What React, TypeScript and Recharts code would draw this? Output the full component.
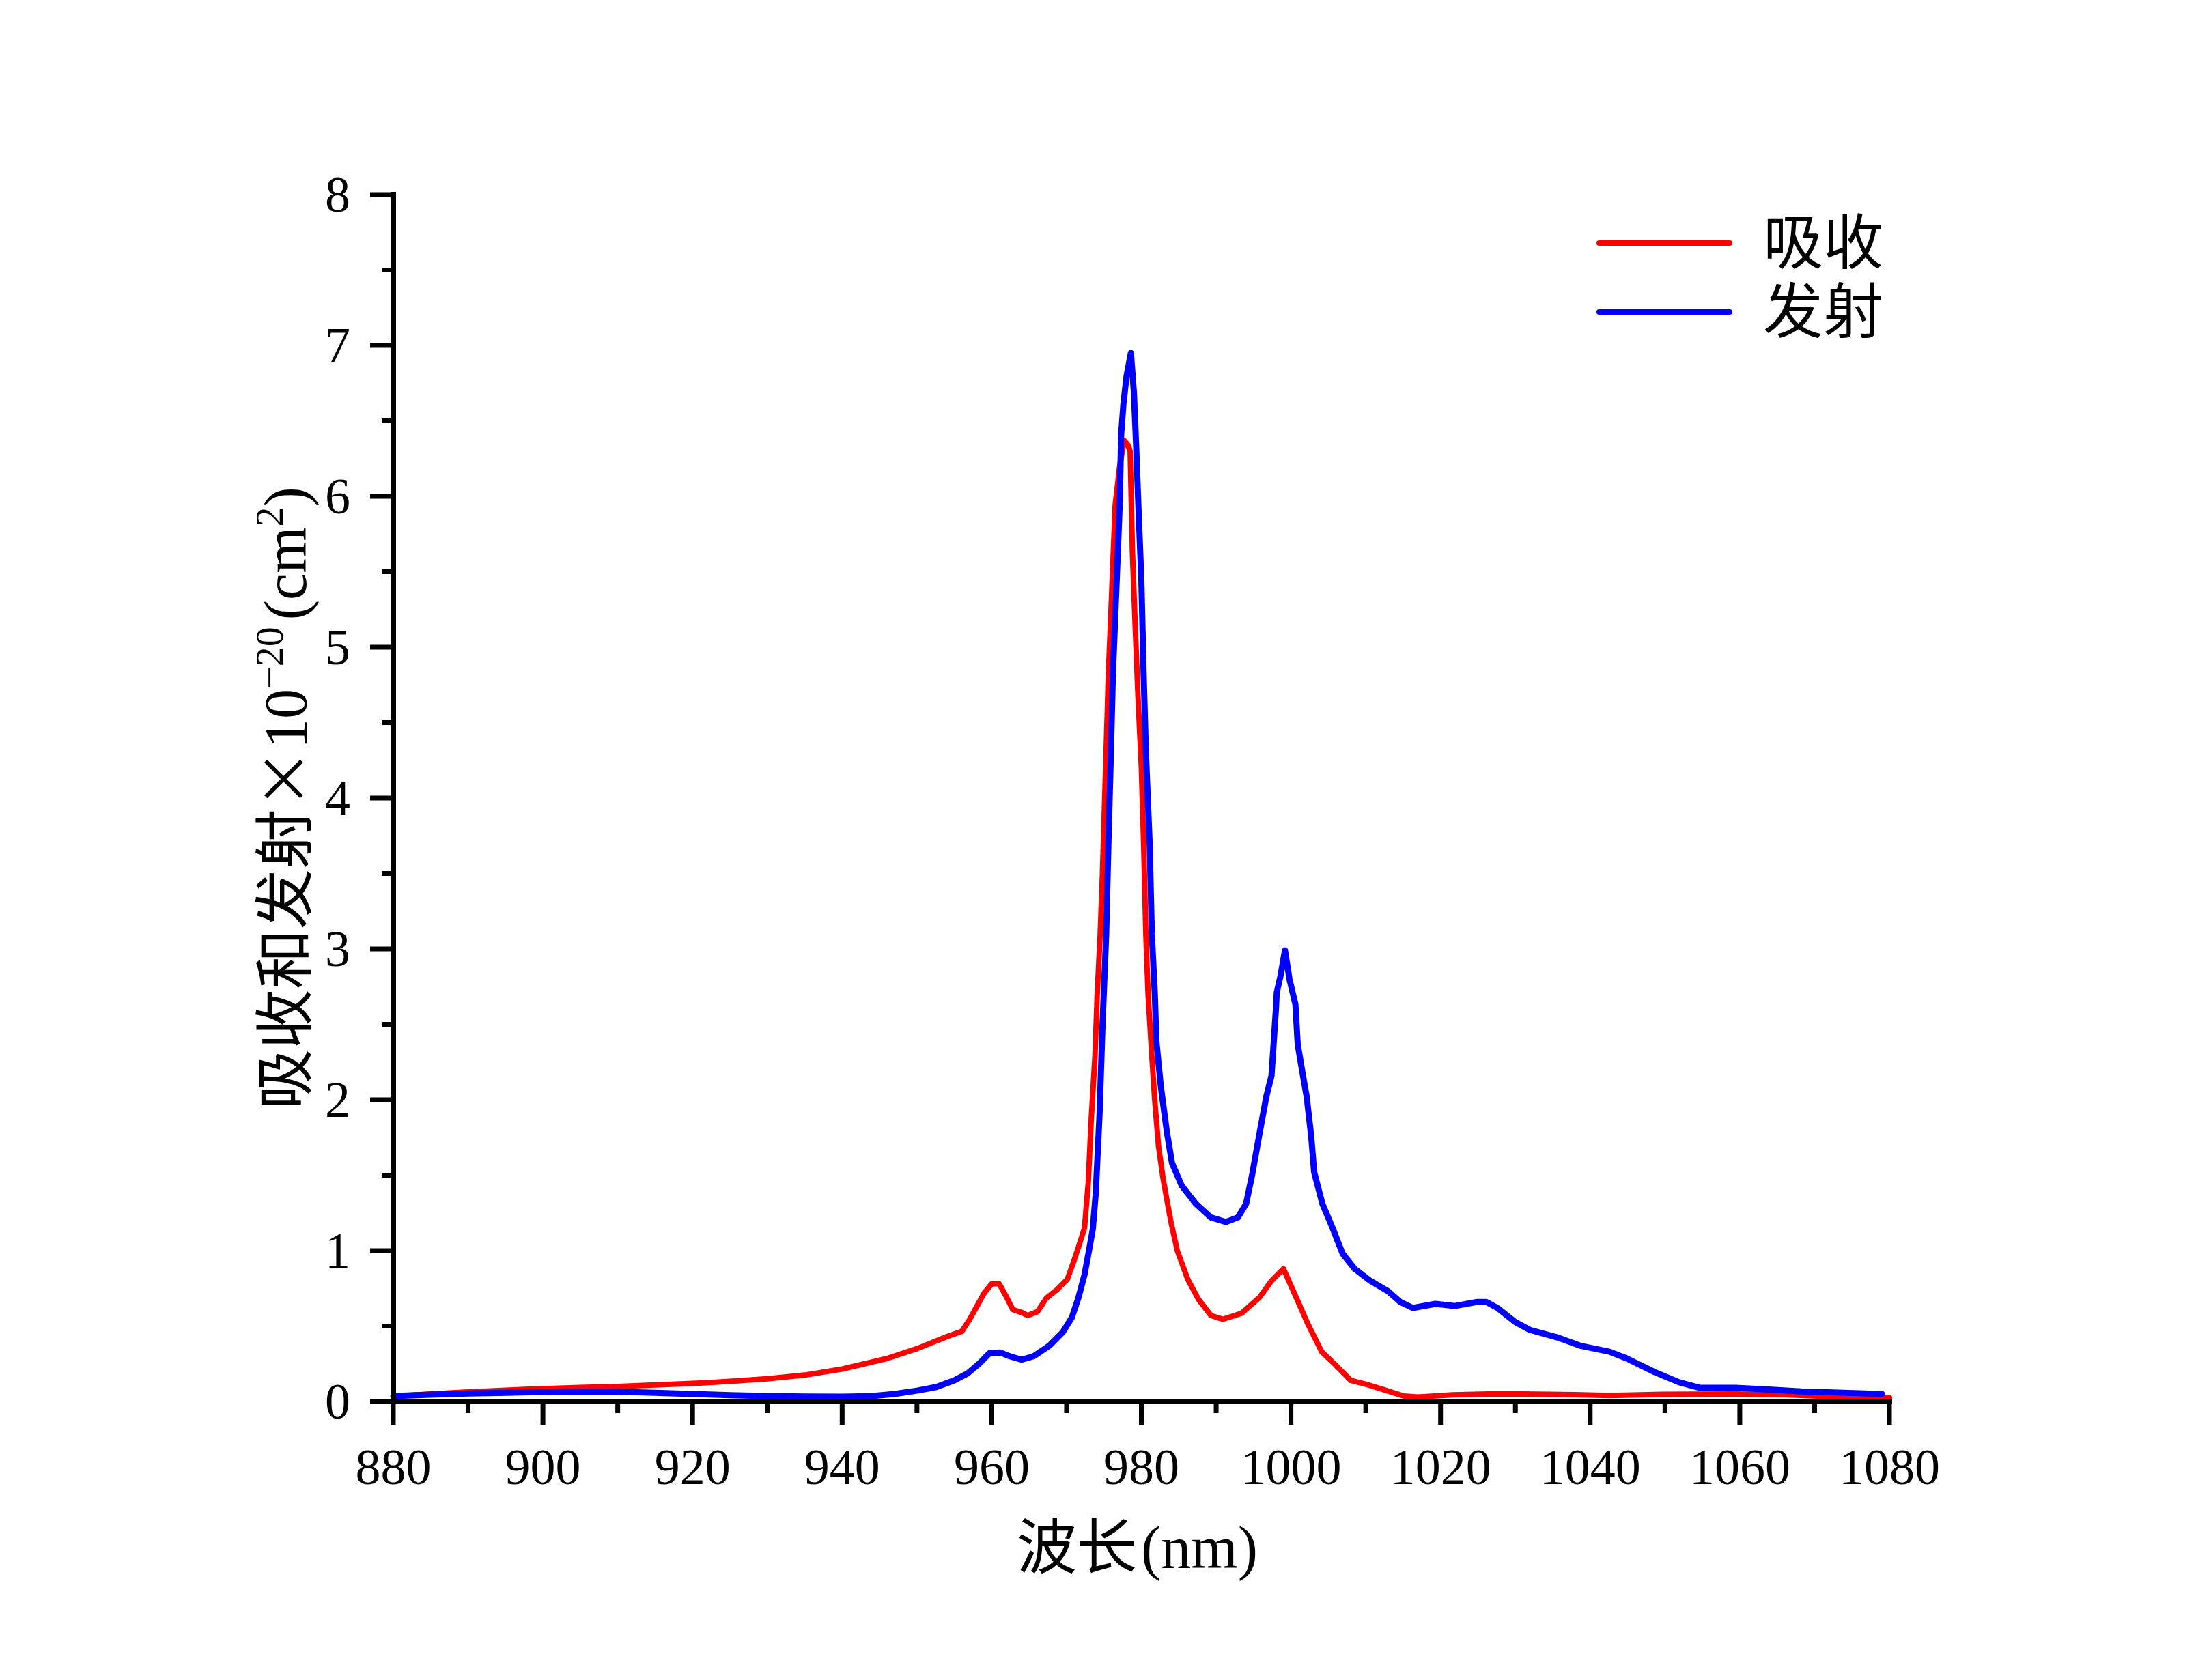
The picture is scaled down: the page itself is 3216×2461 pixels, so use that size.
import { Legend, Line, LineChart, XAxis, YAxis } from 'recharts';

const FONT = "'Liberation Serif', 'Noto Sans CJK SC', serif";
const CJK = "'Noto Sans CJK SC', sans-serif";

const seriesNames = ['吸收', '发射'];

// 吸收 (absorption)
const absWavelength = [
  880, 885, 890, 895, 900, 905, 910, 915, 920, 925, 930, 935, 940, 943, 946, 950, 954, 956, 957, 958,
  959, 960, 961, 962, 962.8, 964, 964.8, 966.1, 967.3, 968.7, 970.1, 970.9, 971.7, 972.4, 972.9, 973.3,
  973.8, 974.1, 974.5, 974.8, 975.1, 975.6, 976.1, 976.5, 977.1, 977.7, 978.2, 978.5, 978.8, 979.1,
  979.5, 980.0, 980.3, 980.6, 980.9, 981.4, 981.8, 982.3, 982.9, 983.4, 984.0, 984.8, 986.2, 987.6,
  989.3, 990.9, 993.4, 995.8, 997.4, 999.0, 1000.7, 1002.3, 1004.1, 1006.0, 1008.0, 1010.0, 1012.3,
  1015.1, 1017.0, 1021.6, 1026.3, 1031.0, 1038.0, 1042.6, 1049.6, 1059.0, 1066.0, 1073.0, 1080.0
];
const absValue = [
  0.035, 0.05, 0.063, 0.075, 0.085, 0.093, 0.1, 0.11, 0.12, 0.133, 0.15, 0.175, 0.215, 0.25, 0.285, 0.35,
  0.43, 0.465, 0.54, 0.63, 0.72, 0.78, 0.78, 0.69, 0.61, 0.59, 0.57, 0.595, 0.685, 0.74, 0.81, 0.92, 1.04,
  1.15, 1.45, 1.87, 2.29, 2.7, 3.1, 3.5, 4.0, 4.83, 5.44, 5.94, 6.2, 6.37, 6.34, 6.3, 5.64, 5.24, 4.73,
  4.2, 3.71, 3.1, 2.7, 2.29, 1.99, 1.69, 1.48, 1.34, 1.18, 1.0, 0.81, 0.68, 0.57, 0.545, 0.585, 0.69,
  0.8, 0.88, 0.69, 0.51, 0.33, 0.24, 0.14, 0.115, 0.08, 0.036, 0.03, 0.044, 0.05, 0.05, 0.045, 0.04,
  0.048, 0.05, 0.045, 0.03, 0.025
];

// 发射 (emission)
const emiWavelength = [
  880, 885, 890, 895, 900, 905, 910, 915, 920, 925, 930, 935, 940, 944, 947, 950, 952.6, 955, 956.8,
  958.3, 959.7, 961.1, 962.4, 964, 965.6, 967.7, 969.5, 970.7, 971.6, 972.4, 973, 973.5, 973.9, 974.4,
  974.8, 975.3, 975.6, 975.9, 976.2, 976.7, 977.1, 977.3, 977.6, 978, 978.6, 979, 979.3, 979.6, 980,
  980.3, 980.6, 981.1, 981.4, 981.8, 982, 982.6, 983.4, 984.1, 985.4, 987.3, 989.3, 991.3, 992.9, 994,
  994.8, 995.7, 996.7, 997.4, 998, 998.1, 998.6, 999.2, 999.8, 1000.6, 1000.9, 1001.5, 1002.1, 1002.7,
  1003.1, 1004.2, 1005.4, 1006.9, 1008.5, 1010.6, 1013, 1014.6, 1016.3, 1019.3, 1021.9, 1024.9, 1026.1,
  1027.7, 1030, 1031.9, 1035.6, 1038.8, 1042.6, 1044.9, 1048.6, 1051.9, 1054.7, 1059.4, 1063.5, 1068.2,
  1075.2, 1079
];
const emiValue = [
  0.036, 0.045, 0.053, 0.058, 0.062, 0.065, 0.064, 0.058, 0.05, 0.042, 0.036, 0.033, 0.032, 0.036, 0.05,
  0.072, 0.096, 0.14, 0.187, 0.25, 0.32, 0.325, 0.3, 0.277, 0.3, 0.37, 0.46, 0.556, 0.69, 0.84, 1.0,
  1.14, 1.38, 1.89, 2.49, 3.1, 3.71, 4.25, 4.83, 5.44, 5.94, 6.41, 6.61, 6.79, 6.95, 6.69, 6.34, 5.94,
  5.44, 4.83, 4.31, 3.71, 3.1, 2.7, 2.39, 2.09, 1.79, 1.58, 1.43, 1.31, 1.22, 1.19, 1.22, 1.31, 1.5,
  1.75, 2.02, 2.16, 2.61, 2.71, 2.82, 2.99, 2.8, 2.63, 2.37, 2.19, 2.02, 1.76, 1.52, 1.31, 1.17, 0.98,
  0.88, 0.8, 0.73, 0.66, 0.62, 0.647, 0.633, 0.66, 0.66, 0.617, 0.526, 0.475, 0.425, 0.368, 0.33,
  0.285, 0.195, 0.127, 0.09, 0.09, 0.08, 0.067, 0.056, 0.05
];

const xMajorTicks = [880, 900, 920, 940, 960, 980, 1000, 1020, 1040, 1060, 1080];
const xMinorTicks = [890, 910, 930, 950, 970, 990, 1010, 1030, 1050, 1070];
const yMajorTicks = [0, 1, 2, 3, 4, 5, 6, 7, 8];
const yMinorTicks = [0.5, 1.5, 2.5, 3.5, 4.5, 5.5, 6.5, 7.5];

const xTicks = [...xMajorTicks, ...xMinorTicks].sort((a, b) => a - b);
const yTicks = [...yMajorTicks, ...yMinorTicks].sort((a, b) => a - b);

const absData = absWavelength.map((wl, i) => ({ wl, value: absValue[i] }));
const emiData = emiWavelength.map((wl, i) => ({ wl, value: emiValue[i] }));

function XTick({ x, y, payload }: any) {
  const major = xMajorTicks.includes(payload.value);
  return (
    <g>
      <line x1={x} y1={y} x2={x} y2={y + (major ? 34 : 17)} stroke="#000" strokeWidth={7} />
      {major && (
        <text x={x} y={y + 121} textAnchor="middle" fontSize={74} fontFamily={FONT} fill="#000">
          {payload.value}
        </text>
      )}
    </g>
  );
}

function YTick({ x, y, payload }: any) {
  const major = yMajorTicks.includes(payload.value);
  return (
    <g>
      <line x1={x - (major ? 34 : 17)} y1={y} x2={x} y2={y} stroke="#000" strokeWidth={7} />
      {major && (
        <text x={x - 63} y={y + 25} textAnchor="end" fontSize={74} fontFamily={FONT} fill="#000">
          {payload.value}
        </text>
      )}
    </g>
  );
}

function XTitle({ viewBox }: any) {
  const cx = viewBox.x + viewBox.width / 2 - 6;
  return (
    <text x={cx} y={viewBox.y + 244} textAnchor="middle" fontSize={88} fontFamily={FONT} fill="#000">
      波长<tspan dx={6}>(nm)</tspan>
    </text>
  );
}

function YTitle({ viewBox }: any) {
  const cx = viewBox.x + viewBox.width - 128;
  const cy = viewBox.y + viewBox.height / 2;
  return (
    <text
      x={cx}
      y={cy}
      transform={`rotate(-90, ${cx}, ${cy})`}
      textAnchor="middle"
      fontSize={88}
      fontFamily={FONT}
      fill="#000"
    >
      吸收和发射
      <tspan fontFamily={CJK}>×</tspan>
      <tspan>10</tspan>
      <tspan dy={-34} fontSize={58}>−20</tspan>
      <tspan dy={34} dx={10} fontSize={88}>(cm</tspan>
      <tspan dy={-34} fontSize={58}>2</tspan>
      <tspan dy={34} fontSize={88}>)</tspan>
    </text>
  );
}

function LegendBox({ payload }: any) {
  const items = [...(payload || [])].sort(
    (a: any, b: any) => seriesNames.indexOf(a.value) - seriesNames.indexOf(b.value)
  );
  return (
    <svg width={480} height={220}>
      {items.map((entry: any, i: number) => (
        <g key={entry.value}>
          <line
            x1={12}
            x2={203}
            y1={66 + i * 101}
            y2={66 + i * 101}
            stroke={entry.color}
            strokeWidth={8}
            strokeLinecap="round"
          />
          <text x={252} y={66 + i * 101} dominantBaseline="central" fontSize={88} fontFamily={FONT} fill="#000">
            {entry.value}
          </text>
        </g>
      ))}
    </svg>
  );
}

export default function App() {
  return (
    <div style={{ background: '#fff', width: 3216, height: 2461 }}>
      <style>{'body { margin: 0; }'}</style>
      <LineChart width={3216} height={2461} margin={{ top: 285, right: 449, bottom: 108, left: 176 }}>
        <XAxis
          dataKey="wl"
          type="number"
          domain={[880, 1080]}
          ticks={xTicks}
          interval={0}
          height={300}
          tickLine={false}
          tickSize={0}
          tickMargin={0}
          tick={XTick}
          axisLine={{ stroke: '#000', strokeWidth: 8, strokeLinecap: 'square' }}
          label={XTitle}
        />
        <YAxis
          type="number"
          domain={[0, 8]}
          ticks={yTicks}
          interval={0}
          width={400}
          tickLine={false}
          tickSize={0}
          tickMargin={0}
          tick={YTick}
          axisLine={{ stroke: '#000', strokeWidth: 8, strokeLinecap: 'square' }}
          label={YTitle}
        />
        <Legend
          layout="vertical"
          align="center"
          verticalAlign="middle"
          content={LegendBox}
          wrapperStyle={{ left: 2330, top: 290, width: 480, height: 220 }}
        />
        <Line
          data={absData}
          dataKey="value"
          name={seriesNames[0]}
          type="linear"
          stroke="#FF0000"
          strokeWidth={8}
          strokeLinejoin="round"
          strokeLinecap="round"
          dot={false}
          isAnimationActive={false}
        />
        <Line
          data={emiData}
          dataKey="value"
          name={seriesNames[1]}
          type="linear"
          stroke="#0000FF"
          strokeWidth={9}
          strokeLinejoin="round"
          strokeLinecap="round"
          dot={false}
          isAnimationActive={false}
        />
      </LineChart>
    </div>
  );
}
